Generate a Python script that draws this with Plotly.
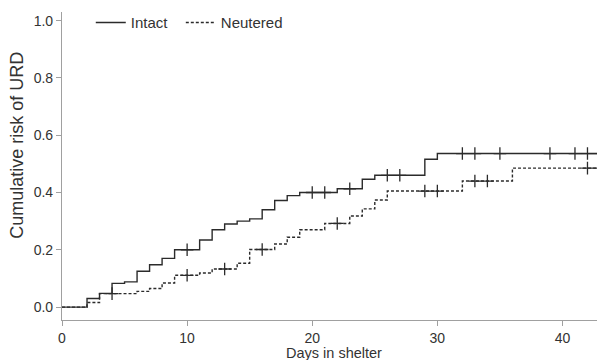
import numpy as np
import plotly.graph_objects as go

# Kaplan-Meier style cumulative risk steps (event time, cumulative risk after event)
intact_times = [0, 2, 3, 4, 5, 6, 7, 8, 9, 11, 12, 13, 14, 15, 16, 17, 18, 19, 22, 24, 25, 29, 30, 44]
intact_risk = [0.0, 0.030, 0.048, 0.083, 0.088, 0.125, 0.148, 0.170, 0.200, 0.234, 0.270, 0.290,
               0.300, 0.308, 0.340, 0.372, 0.389, 0.400, 0.413, 0.446, 0.460, 0.516, 0.536, 0.536]
intact_censor = [10, 20, 21, 23, 26, 27, 32, 33, 35, 39, 41, 42, 43]

neutered_times = [0, 2, 3, 6, 7, 8, 9, 11, 12, 14, 15, 17, 18, 19, 21, 23, 24, 25, 26, 32, 36, 44]
neutered_risk = [0.0, 0.016, 0.047, 0.055, 0.065, 0.084, 0.111, 0.119, 0.133, 0.153, 0.201, 0.220,
                 0.244, 0.270, 0.292, 0.318, 0.343, 0.374, 0.405, 0.440, 0.485, 0.485]
neutered_censor = [4, 10, 13, 16, 22, 29, 30, 33, 34, 42, 43]

x_ticks = [0, 10, 20, 30, 40]
y_ticks = [0.0, 0.2, 0.4, 0.6, 0.8, 1.0]
y_tick_labels = ["0.0", "0.2", "0.4", "0.6", "0.8", "1.0"]


def step_value(times, risk, t):
    idx = np.searchsorted(np.array(times), t, side="right") - 1
    return risk[idx]


LINE = "#2b2b2b"
AXIS = "#a0a0a0"
TEXT = "#333333"
FONT = "Liberation Sans, Arial, sans-serif"

fig = go.Figure()
fig.add_trace(go.Scatter(x=intact_times, y=intact_risk, mode="lines", line_shape="hv",
                         line=dict(color=LINE, width=1.4), name="Intact", legend="legend"))
fig.add_trace(go.Scatter(x=neutered_times, y=neutered_risk, mode="lines", line_shape="hv",
                         line=dict(color=LINE, width=1.4, dash="3px,2px"), name="Neutered",
                         legend="legend2"))
fig.add_trace(go.Scatter(x=intact_censor,
                         y=[step_value(intact_times, intact_risk, t) for t in intact_censor],
                         mode="markers", showlegend=False,
                         marker=dict(symbol="cross-thin", size=9, line=dict(color=LINE, width=1.3))))
fig.add_trace(go.Scatter(x=neutered_censor,
                         y=[step_value(neutered_times, neutered_risk, t) for t in neutered_censor],
                         mode="markers", showlegend=False,
                         marker=dict(symbol="cross-thin", size=9, line=dict(color=LINE, width=1.3))))

legend_style = dict(orientation="h", y=0.965, xanchor="left", yanchor="middle",
                    font=dict(size=15, color=TEXT), bgcolor="rgba(0,0,0,0)", itemwidth=30)

fig.update_layout(
    width=597, height=352,
    margin=dict(l=54, r=0, t=4, b=40, autoexpand=False),
    paper_bgcolor="white", plot_bgcolor="white",
    font=dict(family=FONT, size=14, color=TEXT),
    showlegend=True,
    legend=dict(x=0.053, **legend_style),
    legend2=dict(x=0.2188, **legend_style),
    xaxis=dict(range=[0, 43.4], tickvals=x_ticks, showgrid=False, zeroline=False,
               showline=True, linecolor=AXIS, linewidth=1.2, ticks="outside", ticklen=5,
               tickcolor=AXIS, tickfont=dict(size=14, color=TEXT), automargin=False),
    yaxis=dict(range=[-0.045, 1.03], tickvals=y_ticks, ticktext=y_tick_labels, showgrid=False,
               zeroline=False, showline=True, linecolor=AXIS, linewidth=1.2, ticks="outside",
               ticklen=5, tickcolor=AXIS, tickfont=dict(size=14, color=TEXT), automargin=False),
    annotations=[
        dict(text="Days in shelter", xref="paper", yref="paper", x=0.5, y=-0.0795,
             xanchor="center", yanchor="top", borderpad=0, showarrow=False,
             font=dict(size=14.5, color=TEXT)),
        dict(text="Cumulative risk of URD", xref="paper", yref="paper", x=-0.082, y=0.567,
             xanchor="center", yanchor="middle", textangle=-90, showarrow=False,
             font=dict(size=18, color=TEXT)),
    ],
)

fig.write_html("out.html")
